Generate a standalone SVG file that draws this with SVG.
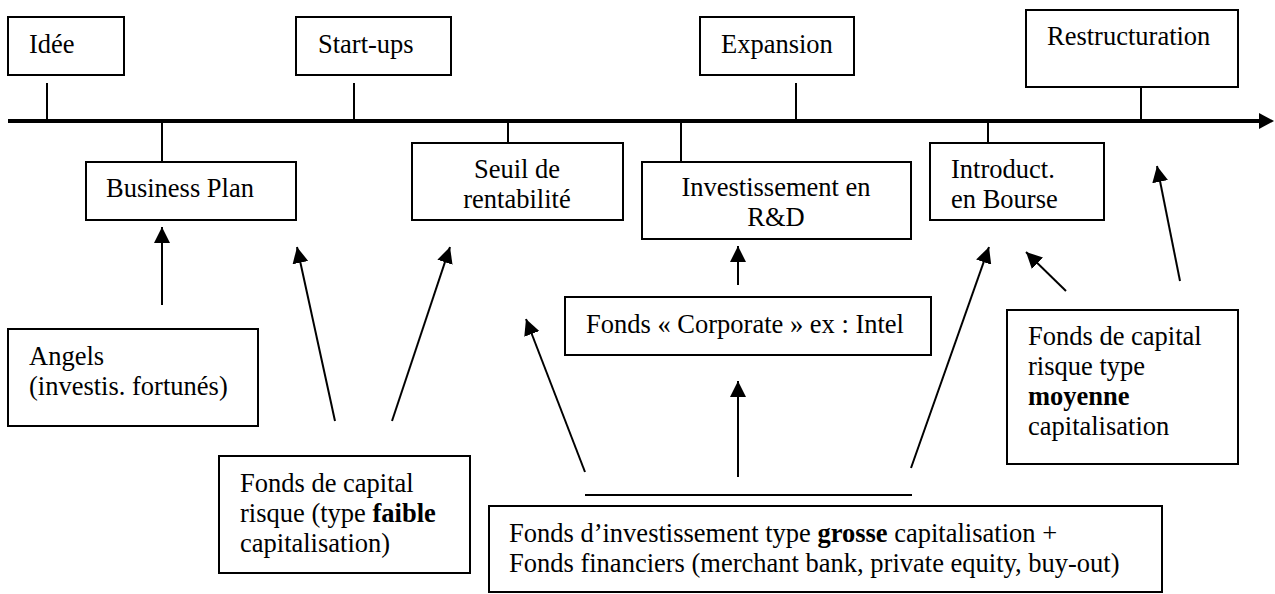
<svg xmlns="http://www.w3.org/2000/svg" width="1275" height="594" viewBox="0 0 1275 594">
<defs>
<style>
.box{fill:#fff;stroke:#000;stroke-width:2}
.t{font-size:26.5px;fill:#000}
.b{font-weight:bold}
.tick{stroke:#000;stroke-width:2;fill:none}
.arr{stroke:#000;stroke-width:2;fill:none;marker-end:url(#ah)}
</style>
<marker id="ah" markerUnits="userSpaceOnUse" markerWidth="16" markerHeight="16" refX="16" refY="8" orient="auto" viewBox="0 0 16 16">
<path d="M0,0 L16,8 L0,16 z" fill="#000"/>
</marker>
</defs>
<rect width="1275" height="594" fill="#fff"/>
<g id="timeline">
<line x1="8" y1="121" x2="1262" y2="121" stroke="#000" stroke-width="4"/>
<polygon points="1259,113 1274,121 1259,129" fill="#000"/>
</g>
<g id="connectors">
<line class="tick" x1="47" y1="83" x2="47" y2="119"/>
<line class="tick" x1="354" y1="83" x2="354" y2="119"/>
<line class="tick" x1="796" y1="83" x2="796" y2="119"/>
<line class="tick" x1="1141" y1="87" x2="1141" y2="119"/>
<line class="tick" x1="162" y1="123" x2="162" y2="162"/>
<line class="tick" x1="508" y1="123" x2="508" y2="143"/>
<line class="tick" x1="681" y1="123" x2="681" y2="162"/>
<line class="tick" x1="988" y1="123" x2="988" y2="143"/>
<line class="arr" x1="162" y1="305" x2="162" y2="227"/>
<line class="arr" x1="335" y1="421" x2="297" y2="247"/>
<line class="arr" x1="392" y1="421" x2="450" y2="247"/>
<line class="arr" x1="585" y1="472" x2="526" y2="319"/>
<line class="arr" x1="738" y1="477" x2="738" y2="381"/>
<line class="arr" x1="738" y1="285" x2="738" y2="246"/>
<line class="arr" x1="911" y1="468" x2="989" y2="247"/>
<line class="arr" x1="1066" y1="291" x2="1026" y2="252"/>
<line class="arr" x1="1180" y1="281" x2="1157" y2="166"/>
<line class="tick" x1="585" y1="495" x2="912" y2="495"/>
</g>
<g font-family="Liberation Serif, Times New Roman, DejaVu Serif, serif">
<g id="idee"><rect class="box" x="8" y="17" width="116" height="58"/><text class="t" x="29" y="53">Idée</text></g>
<g id="startups"><rect class="box" x="296" y="17" width="155" height="58"/><text class="t" x="318" y="53">Start-ups</text></g>
<g id="expansion"><rect class="box" x="700" y="17" width="154" height="58"/><text class="t" x="721" y="53">Expansion</text></g>
<g id="restructuration"><rect class="box" x="1026" y="10" width="212" height="77"/><text class="t" x="1047" y="45">Restructuration</text></g>
<g id="businessplan"><rect class="box" x="86" y="162" width="210" height="58"/><text class="t" x="106" y="197">Business Plan</text></g>
<g id="seuil"><rect class="box" x="412" y="143" width="211" height="77"/><text class="t" x="517" y="178" text-anchor="middle">Seuil de</text><text class="t" x="517" y="208" text-anchor="middle">rentabilité</text></g>
<g id="rd"><rect class="box" x="642" y="162" width="269" height="77"/><text class="t" x="776" y="196" text-anchor="middle">Investissement en</text><text class="t" x="776" y="226" text-anchor="middle">R&amp;D</text></g>
<g id="bourse"><rect class="box" x="930" y="143" width="174" height="77"/><text class="t" x="951" y="178">Introduct.</text><text class="t" x="951" y="208">en Bourse</text></g>
<g id="angels"><rect class="box" x="8" y="329" width="250" height="97"/><text class="t" x="29" y="365">Angels</text><text class="t" x="29" y="395">(investis. fortunés)</text></g>
<g id="corporate"><rect class="box" x="565" y="297" width="366" height="58"/><text class="t" x="586" y="333">Fonds « Corporate » ex : Intel</text></g>
<g id="moyenne"><rect class="box" x="1007" y="310" width="231" height="154"/><text class="t" x="1028" y="345">Fonds de capital</text><text class="t" x="1028" y="375">risque type</text><text class="t b" x="1028" y="405">moyenne</text><text class="t" x="1028" y="435">capitalisation</text></g>
<g id="faible"><rect class="box" x="219" y="456" width="251" height="117"/><text class="t" x="240" y="492">Fonds de capital</text><text class="t" x="240" y="522">risque (type <tspan class="b">faible</tspan></text><text class="t" x="240" y="552">capitalisation)</text></g>
<g id="grosse"><rect class="box" x="489" y="506" width="673" height="86"/><text class="t" x="509" y="542">Fonds d’investissement type <tspan class="b">grosse</tspan> capitalisation +</text><text class="t" x="509" y="572">Fonds financiers (merchant bank, private equity, buy-out)</text></g>
</g>
</svg>
